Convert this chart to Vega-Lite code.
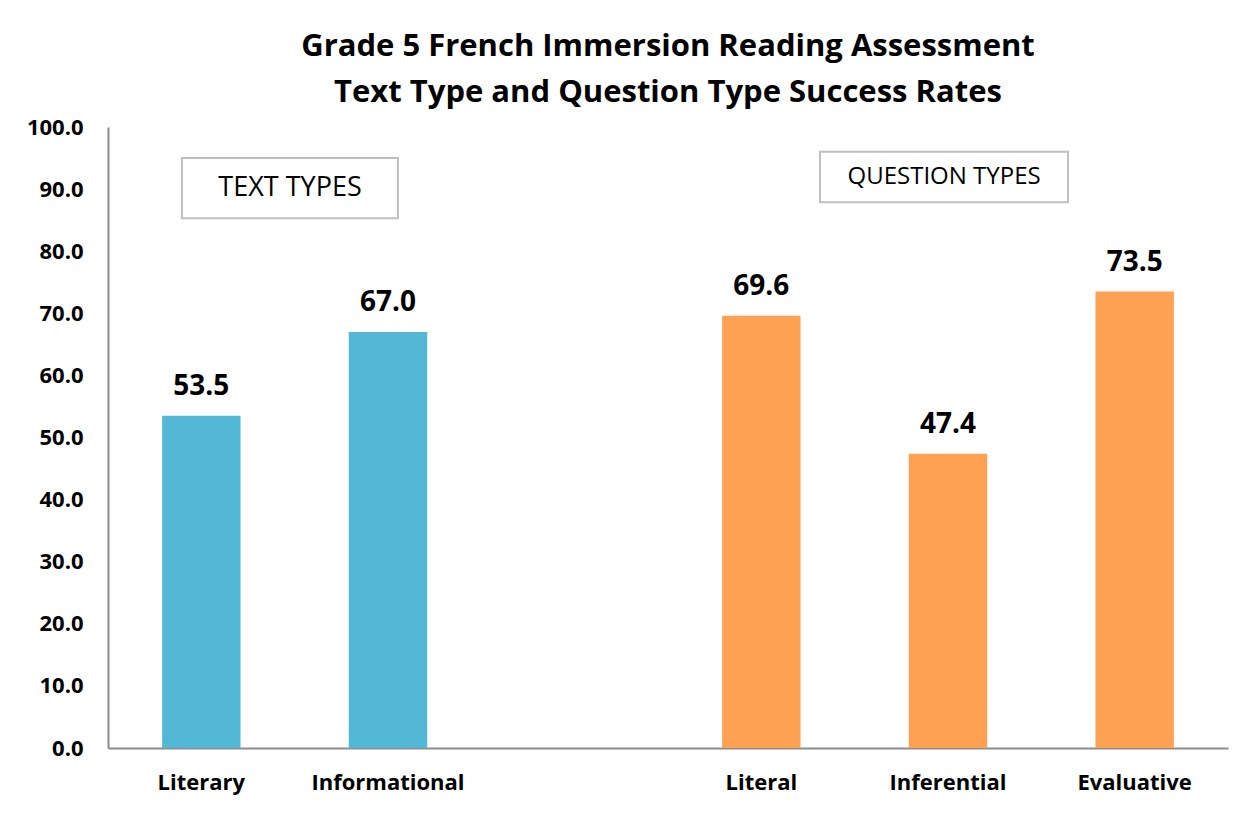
{
  "$schema": "https://vega.github.io/schema/vega-lite/v6.json",
  "width": 1120,
  "height": 621,
  "autosize": {"type": "none"},
  "padding": {"left": 108, "top": 127, "right": 22, "bottom": 67},
  "background": "white",
  "config": {"view": {"stroke": null}, "font": "Open Sans"},
  "title": {
    "text": ["Grade 5 French Immersion Reading Assessment", "Text Type and Question Type Success Rates"],
    "fontSize": 31,
    "fontWeight": "bold",
    "font": "Open Sans",
    "color": "#000000",
    "lineHeight": 46,
    "offset": 7,
    "anchor": "middle"
  },
  "datasets": {
    "bars": [
      {"category": "Literary", "group": "Text", "rate": 53.5},
      {"category": "Informational", "group": "Text", "rate": 67.0},
      {"category": "Literal", "group": "Question", "rate": 69.6},
      {"category": "Inferential", "group": "Question", "rate": 47.4},
      {"category": "Evaluative", "group": "Question", "rate": 73.5}
    ],
    "boxes": [
      {"label": "TEXT TYPES", "x0": 0.396, "x1": 1.553, "xm": 0.975, "y0": 85.3, "y1": 95.0, "ym": 90.2},
      {"label": "QUESTION TYPES", "x0": 3.814, "x1": 5.143, "xm": 4.479, "y0": 87.9, "y1": 96.0, "ym": 91.9}
    ]
  },
  "layer": [
    {
      "data": {"name": "bars"},
      "layer": [
        {
          "mark": {"type": "bar", "width": {"band": 0.42}},
          "encoding": {
            "x": {
              "field": "category",
              "type": "nominal",
              "sort": null,
              "scale": {"domain": ["Literary", "Informational", " ", "Literal", "Inferential", "Evaluative"], "paddingInner": 0, "paddingOuter": 0},
              "axis": {
                "title": null,
                "labelAngle": 0,
                "ticks": false,
                "labelFontSize": 22,
                "labelFontWeight": "bold",
                "labelColor": "#000000",
                "labelPadding": 24,
                "domainColor": "#8c8c8c",
                "domainWidth": 2,
                "grid": false
              }
            },
            "y": {
              "field": "rate",
              "type": "quantitative",
              "scale": {"domain": [0, 100]},
              "axis": {
                "title": null,
                "values": [0, 10, 20, 30, 40, 50, 60, 70, 80, 90, 100],
                "format": ".1f",
                "ticks": false,
                "grid": false,
                "labelFontSize": 22,
                "labelFontWeight": "bold",
                "labelColor": "#000000",
                "labelPadding": 25,
                "domainColor": "#8c8c8c",
                "domainWidth": 2
              }
            },
            "color": {
              "field": "group",
              "type": "nominal",
              "scale": {"domain": ["Text", "Question"], "range": ["#53B7D6", "#FFA152"]},
              "legend": null
            }
          }
        },
        {
          "mark": {"type": "text", "fontSize": 28, "fontWeight": "bold", "color": "#000000", "baseline": "alphabetic", "dy": -21},
          "encoding": {
            "x": {"field": "category", "type": "nominal", "sort": null},
            "y": {"field": "rate", "type": "quantitative"},
            "text": {"field": "rate", "type": "quantitative", "format": ".1f"}
          }
        }
      ]
    },
    {
      "data": {"name": "boxes"},
      "layer": [
        {
          "mark": {"type": "rect", "fill": "white", "stroke": "#bfbfbf", "strokeWidth": 2},
          "encoding": {
            "x": {"field": "x0", "type": "quantitative", "scale": {"domain": [0, 6]}, "axis": null},
            "x2": {"field": "x1"},
            "y": {"field": "y0", "type": "quantitative"},
            "y2": {"field": "y1"}
          }
        },
        {
          "transform": [{"filter": "datum.label === 'TEXT TYPES'"}],
          "mark": {"type": "text", "fontSize": 27, "color": "#000000", "baseline": "middle", "align": "center"},
          "encoding": {
            "x": {"field": "xm", "type": "quantitative"},
            "y": {"field": "ym", "type": "quantitative"},
            "text": {"field": "label"}
          }
        },
        {
          "transform": [{"filter": "datum.label === 'QUESTION TYPES'"}],
          "mark": {"type": "text", "fontSize": 24, "color": "#000000", "baseline": "middle", "align": "center"},
          "encoding": {
            "x": {"field": "xm", "type": "quantitative"},
            "y": {"field": "ym", "type": "quantitative"},
            "text": {"field": "label"}
          }
        }
      ]
    }
  ],
  "resolve": {"scale": {"x": "independent"}}
}
